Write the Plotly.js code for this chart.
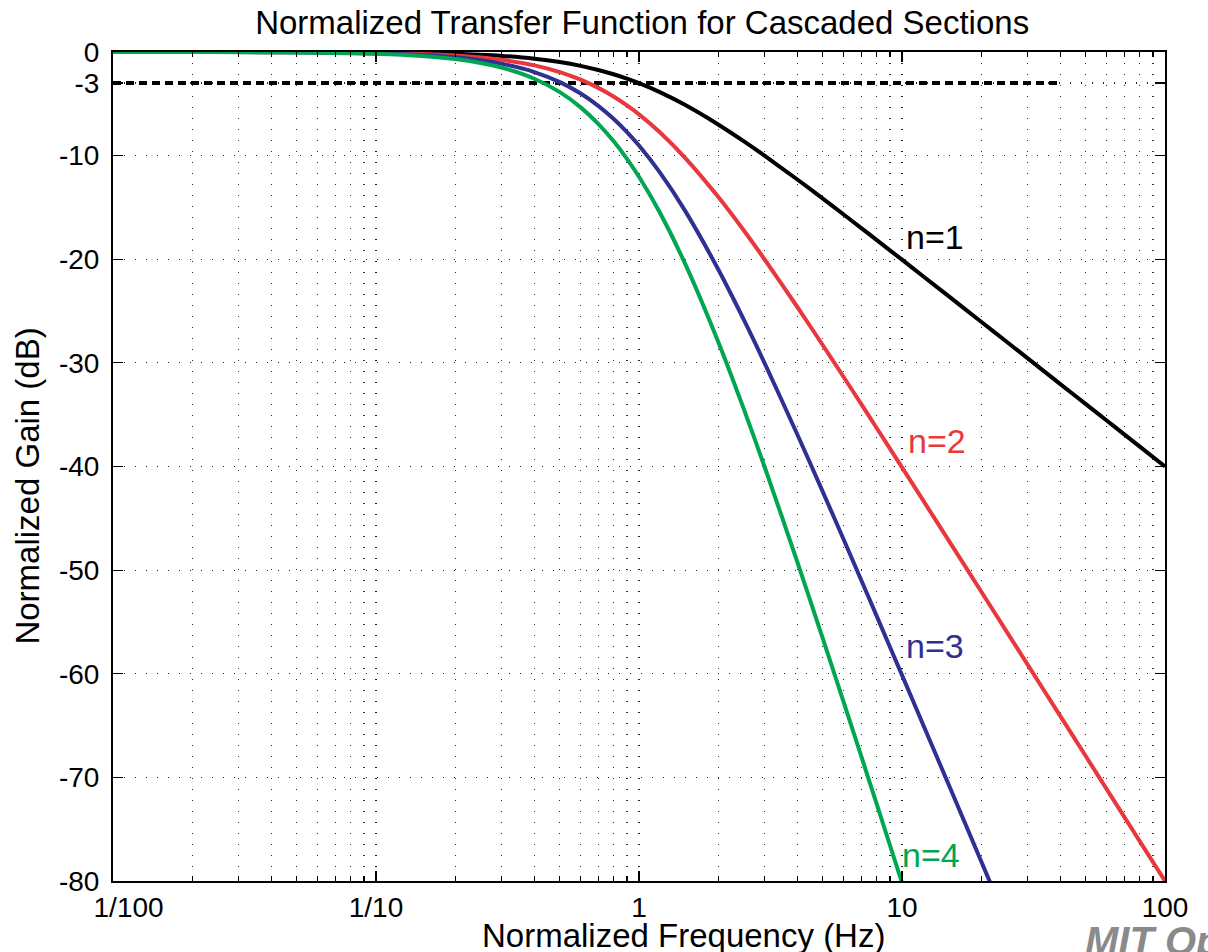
<!DOCTYPE html>
<html>
<head>
<meta charset="utf-8">
<script src="https://cdn.plot.ly/plotly-3.0.1.min.js"></script>
<style>html,body{margin:0;padding:0;background:#fff;}#chart{width:1208px;height:952px;}</style>
</head>
<body>
<div id="chart"></div>
<script>
// Normalized frequency (Hz)
const freq = [0.01,0.02,0.03,0.05,0.07,0.1,0.15,0.2,0.25,0.3,0.4,0.5,0.6,0.7,0.8,0.9,1,1.2,1.5,2,2.5,3,4,5,6,7,8,10,12,15,20,25,30,40,50,60,70,80,100];
// Normalized gain (dB) for n cascaded sections
const gainN1 = [-0.0004,-0.0017,-0.0039,-0.0108,-0.0212,-0.0432,-0.0966,-0.1703,-0.2633,-0.3743,-0.6446,-0.9691,-1.3354,-1.7319,-2.1484,-2.5768,-3.0103,-3.8739,-5.1188,-6.9897,-8.6034,-10.0,-12.304,-14.150,-15.682,-16.990,-18.129,-20.043,-21.614,-23.541,-26.031,-27.966,-29.547,-32.044,-33.981,-35.565,-36.903,-38.062,-40.0];
const gainN2 = [-0.0009,-0.0035,-0.0078,-0.0217,-0.0424,-0.0864,-0.1932,-0.3407,-0.5266,-0.7486,-1.2892,-1.9382,-2.6708,-3.4638,-4.2968,-5.1536,-6.0206,-7.7478,-10.2376,-13.9794,-17.2068,-20.0,-24.608,-28.300,-31.364,-33.980,-36.258,-40.086,-43.228,-47.082,-52.062,-55.932,-59.094,-64.088,-67.962,-71.130,-73.806,-76.124,-80.0];
const gainN3 = [-0.0013,-0.0052,-0.0117,-0.0325,-0.0636,-0.1296,-0.2898,-0.5109,-0.7899,-1.1229,-1.9338,-2.9073,-4.0062,-5.1957,-6.4452,-7.7304,-9.0309,-11.6217,-15.3564,-20.9691,-25.8102,-30.0,-36.912,-42.450,-47.046,-50.970,-54.387,-60.129,-64.842,-70.623,-78.093,-83.898];
const gainN4 = [-0.0017,-0.0069,-0.0156,-0.0434,-0.0848,-0.1728,-0.3864,-0.6812,-1.0532,-1.4972,-2.5784,-3.8764,-5.3416,-6.9276,-8.5936,-10.3072,-12.0412,-15.4956,-20.4752,-27.9588,-34.4136,-40.0,-49.216,-56.600,-62.728,-67.960,-72.516,-80.172,-86.456];
// -3 dB reference line
const refX = [0.01, 40];
const refY = [-3, -3];
// tick labels
const xTickVals = [0.01, 0.1, 1, 10, 100];
const xTickText = ['\u00a0\u00a0\u00a0\u00a01/100', '1/10', '1', '10', '100'];
const yTickVals = [0, -3, -10, -20, -30, -40, -50, -60, -70, -80];
const yTickText = ['0', '-3', '-10', '-20', '-30', '-40', '-50', '-60', '-70', '-80'];
// curve labels
const labels = ['n=1', 'n=2', 'n=3', 'n=4'];
const labelFreq = [13.4, 13.6, 13.3, 12.9];
const labelGain = [-17.9, -37.5, -57.3, -77.5];

const colors = ['#000000', '#e8383d', '#2e3192', '#00a651'];
const series = [gainN1, gainN2, gainN3, gainN4];

const traces = [{
  x: refX, y: refY, mode: 'lines', type: 'scatter',
  line: {color: '#000', width: 4, dash: '8px,5px'}, hoverinfo: 'skip', showlegend: false
}];
series.forEach((g, i) => {
  traces.push({
    x: freq.slice(0, g.length), y: g, mode: 'lines', type: 'scatter', name: labels[i],
    line: {color: colors[i], width: 4, shape: 'spline', smoothing: 0.8}, showlegend: false
  });
});

const font = 'Liberation Sans, Arial, Helvetica, sans-serif';
const gridDot = '1px,10px';
const layout = {
  width: 1208, height: 952,
  margin: {l: 113, r: 43, t: 52, b: 71},
  paper_bgcolor: '#fff', plot_bgcolor: '#fff',
  font: {family: font, color: '#000', size: 28},
  title: {text: 'Normalized Transfer Function for Cascaded Sections', xref: 'paper', x: 0.503, xanchor: 'center', yref: 'container', y: 0.976, yanchor: 'middle', font: {size: 33, family: font}},
  xaxis: {
    type: 'log', range: [-2, 2], tickmode: 'array', tickvals: xTickVals, ticktext: xTickText,
    ticks: 'inside', ticklen: 10, tickwidth: 1.2, tickcolor: '#000',
    showline: true, linecolor: '#000', linewidth: 2, mirror: 'allticks',
    showgrid: true, gridcolor: '#222', griddash: gridDot, gridwidth: 1.2,
    zeroline: false, automargin: false, tickfont: {size: 28}, ticklabelstandoff: 0,
    minor: {dtick: 'D1', ticks: 'inside', ticklen: 5, tickcolor: '#000', showgrid: true, gridcolor: '#333', griddash: gridDot, gridwidth: 1.2}
  },
  yaxis: {
    range: [-80, 0], tickmode: 'array', tickvals: yTickVals, ticktext: yTickText,
    ticks: 'inside', ticklen: 10, tickwidth: 1.2, tickcolor: '#000',
    showline: true, linecolor: '#000', linewidth: 2, mirror: 'allticks',
    showgrid: true, gridcolor: '#222', griddash: gridDot, gridwidth: 1.2,
    zeroline: false, automargin: false, tickfont: {size: 28}, ticklabelstandoff: 6
  },
  annotations: labels.map((t, i) => ({
    x: Math.log10(labelFreq[i]), y: labelGain[i], xref: 'x', yref: 'y', text: t, showarrow: false,
    font: {size: 34, color: colors[i], family: font}, xanchor: 'center', yanchor: 'middle'
  })).concat([
    {xref: 'paper', yref: 'paper', x: 0.542, y: -0.0415, xanchor: 'center', yanchor: 'top',
     text: 'Normalized Frequency (Hz)', showarrow: false, font: {size: 33, color: '#000', family: font}},
    {xref: 'paper', yref: 'paper', x: -0.0808, y: 0.477, xanchor: 'center', yanchor: 'middle', textangle: -90,
     text: 'Normalized Gain (dB)', showarrow: false, font: {size: 33, color: '#000', family: font}},
    {xref: 'paper', yref: 'paper', x: 0.922, y: -0.044, xanchor: 'left', yanchor: 'top',
     text: '<b><i>MIT OpenCourseWare</i></b>', showarrow: false, font: {size: 40, color: '#8a8a8a', family: font}}
  ]),
  showlegend: false
};
Plotly.newPlot('chart', traces, layout, {displayModeBar: false, staticPlot: true});
</script>
</body>
</html>
